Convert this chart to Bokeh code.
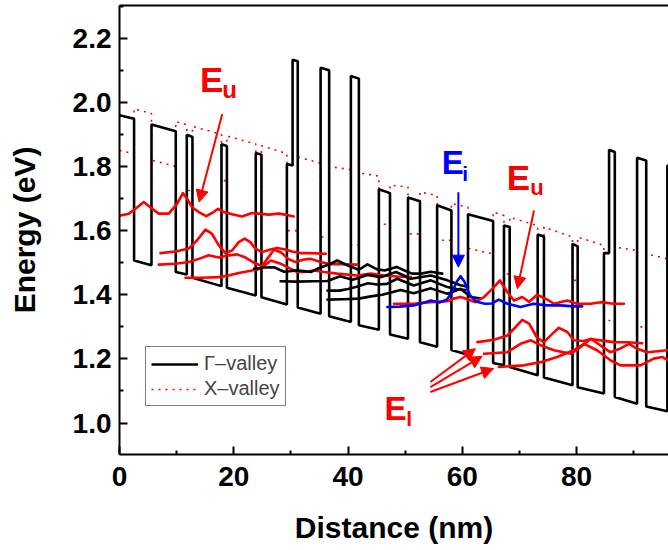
from bokeh.plotting import figure
from bokeh.models import (Range1d, FixedTicker, PrintfTickFormatter, LinearAxis,
                          Legend, LegendItem, Label, Arrow, NormalHead)
from bokeh.embed import file_html
from bokeh.resources import INLINE

# ---------------- data ----------------
# Gamma-valley conduction band profile
gamma_x = [0, 2.55, 2.55, 5.6, 5.6, 9.85, 9.85, 11.78, 11.78, 12.77, 12.77, 17.85, 17.85, 18.8,
           18.8, 23.85, 23.85, 24.85, 24.85, 29.3, 29.3, 30.3, 30.3, 31.2, 31.2, 35.2, 35.2, 36.7,
           36.7, 40.5, 40.5, 41.9, 41.9, 45.4, 45.4, 47.35, 47.35, 50.5, 50.5, 52.6, 52.6, 55.6,
           55.6, 58.1, 58.1, 61.0, 61.0, 65.4, 65.4, 67.3, 67.3, 68.3, 68.3, 73.2, 73.2, 74.3,
           74.3, 79.3, 79.3, 80.2, 80.2, 84.8, 84.8, 85.7, 85.7, 86.7, 86.7, 90.6, 90.6, 92.2,
           92.2, 95.9, 95.9, 97.0]
gamma_y = [1.960, 1.949, 1.507, 1.492, 1.931, 1.910, 1.471, 1.463, 1.899, 1.892, 1.453, 1.427,
           1.869, 1.864, 1.422, 1.398, 1.842, 1.837, 1.392, 1.370, 1.808, 1.803, 2.133, 2.128,
           1.360, 1.341, 2.108, 2.100, 1.333, 1.315, 2.082, 2.074, 1.305, 1.291, 1.729, 1.717,
           1.276, 1.263, 1.703, 1.692, 1.252, 1.238, 1.679, 1.663, 1.228, 1.213, 1.651, 1.630,
           1.187, 1.180, 1.616, 1.611, 1.175, 1.149, 1.588, 1.582, 1.142, 1.118, 1.559, 1.551,
           1.112, 1.092, 1.530, 1.530, 1.852, 1.845, 1.081, 1.060, 1.827, 1.819, 1.052, 1.037,
           1.803, 1.798]

# X-valley profile
xval_x = [0, 2.55, 2.55, 5.6, 5.6, 9.85, 9.85, 11.78, 11.78, 12.77, 12.77, 17.85, 17.85, 18.8,
          18.8, 23.85, 23.85, 24.85, 24.85, 29.3, 29.3, 31.2, 31.2, 35.2, 35.2, 36.7, 36.7, 40.5,
          40.5, 41.9, 41.9, 45.4, 45.4, 47.35, 47.35, 50.5, 50.5, 52.6, 52.6, 55.6, 55.6, 58.1,
          58.1, 61.0, 61.0, 65.4, 65.4, 67.3, 67.3, 68.3, 68.3, 73.2, 73.2, 74.3, 74.3, 79.3,
          79.3, 80.2, 80.2, 84.8, 84.8, 86.7, 86.7, 90.6, 90.6, 92.2, 92.2, 95.9, 95.9, 97.0]
xval_y = [1.85, 1.84, 1.98, 1.965, 1.82, 1.80, 1.94, 1.93, 1.725, 1.725, 1.925, 1.90, 1.756, 1.756,
          1.895, 1.87, 1.735, 1.735, 1.865, 1.84, 1.60, 1.60, 1.83, 1.81, 1.58, 1.58, 1.80, 1.79,
          1.555, 1.555, 1.78, 1.77, 1.62, 1.62, 1.742, 1.736, 1.59, 1.59, 1.72, 1.71, 1.57, 1.57,
          1.685, 1.673, 1.545, 1.527, 1.658, 1.647, 1.465, 1.465, 1.642, 1.616, 1.475, 1.475,
          1.611, 1.58, 1.445, 1.445, 1.58, 1.554, 1.32, 1.32, 1.549, 1.538, 1.30, 1.30, 1.528,
          1.512, 1.30, 1.30]

# upper state E_u (left)
eu1_x = [0.17, 1.63, 2.79, 4.25, 5.7, 6.88, 8.63, 10.1, 11.08, 11.83, 12.7, 13.88, 15.16, 16.2,
         17.25, 18.25, 19.7, 21.45, 23.2, 24.4, 26.1, 27.9, 29.0, 30.5]
eu1_y = [1.647, 1.653, 1.668, 1.689, 1.668, 1.653, 1.653, 1.684, 1.717, 1.700, 1.673, 1.658, 1.645,
         1.655, 1.668, 1.658, 1.651, 1.644, 1.655, 1.653, 1.650, 1.653, 1.650, 1.644]

# lower states (left, red)
el1_x = [7.17, 9.8, 12.13, 13.58, 15.05, 16.2, 17.38, 18.55, 19.7, 20.87, 21.9, 22.9, 23.8, 24.95,
         26.4, 27.6, 29.05, 30.2, 31.7, 33.1, 34.5, 36.1]
el1_y = [1.530, 1.535, 1.544, 1.570, 1.603, 1.590, 1.554, 1.530, 1.538, 1.564, 1.575, 1.564, 1.544,
         1.533, 1.541, 1.546, 1.541, 1.535, 1.530, 1.530, 1.529, 1.528]
el2_x = [6.88, 9.8, 12.13, 13.88, 15.6, 17.38, 19.1, 20.6, 22.05, 23.5, 24.95, 26.0, 27.05, 28.3,
         29.5, 30.8, 32.3, 33.5, 35.2, 36.98, 38.7, 41.6]
el2_y = [1.494, 1.497, 1.502, 1.512, 1.523, 1.516, 1.523, 1.526, 1.516, 1.500, 1.490, 1.515, 1.541,
         1.532, 1.512, 1.502, 1.510, 1.512, 1.502, 1.495, 1.495, 1.494]
el3_x = [11.55, 14.45, 17.38, 19.1, 20.87, 23.2, 24.4, 25.5, 26.5, 28.2, 30.0, 31.1, 32.3, 34.05,
         35.8, 38.1, 41.6, 44.0, 46.3, 48.6, 51.0]
el3_y = [1.453, 1.453, 1.455, 1.460, 1.468, 1.476, 1.480, 1.493, 1.507, 1.497, 1.481, 1.471, 1.471,
         1.476, 1.471, 1.466, 1.460, 1.466, 1.460, 1.457, 1.455]

# Gamma states (black)
gk1_x = [23.55, 25.3, 27.05, 28.8, 31.1, 33.5, 34.6, 37.0, 38.1, 39.9, 41.9, 43.4, 45.0, 46.4, 48.5,
         50.0, 51.2, 52.8, 54.5, 56.5]
gk1_y = [1.481, 1.485, 1.486, 1.472, 1.476, 1.471, 1.481, 1.497, 1.507, 1.492, 1.478, 1.495, 1.480,
         1.476, 1.487, 1.475, 1.466, 1.466, 1.472, 1.466]
gk2_x = [28.2, 31.0, 34.0, 36.4, 38.6, 40.8, 43.4, 45.7, 48.4, 51.0, 54.5, 57.4, 59.7, 61.0]
gk2_y = [1.442, 1.441, 1.442, 1.443, 1.458, 1.447, 1.462, 1.455, 1.471, 1.450, 1.460, 1.445, 1.430,
         1.425]
gk3_x = [36.4, 38.5, 40.0, 41.5, 43.5, 45.1, 46.8, 48.6, 51.5, 54.5, 57.4, 59.0, 60.5]
gk3_y = [1.413, 1.413, 1.418, 1.425, 1.436, 1.432, 1.434, 1.450, 1.429, 1.445, 1.424, 1.418, 1.415]
gk4_x = [36.4, 39.0, 41.9, 44.0, 46.0, 49.2, 51.5, 54.5, 57.4, 59.7, 61.5, 63.2]
gk4_y = [1.385, 1.386, 1.388, 1.395, 1.400, 1.415, 1.405, 1.420, 1.403, 1.419, 1.393, 1.388]

# interface state E_i (blue)
ei_x = [46.9, 49.0, 51.5, 53.0, 54.5, 56.0, 57.3, 58.3, 59.0, 59.7, 60.4, 61.3, 62.5, 64.0, 65.2,
        66.4, 67.9, 70.2, 72.5, 74.9, 77.2, 79.5, 81.0]
ei_y = [1.362, 1.363, 1.367, 1.374, 1.382, 1.376, 1.385, 1.410, 1.440, 1.458, 1.440, 1.400, 1.378,
        1.372, 1.373, 1.385, 1.372, 1.362, 1.372, 1.367, 1.367, 1.364, 1.364]

# upper state E_u (right)
eu2_x = [48.05, 51.5, 54.5, 57.4, 58.5, 59.7, 61.0, 62.2, 63.8, 65.3, 66.6, 67.9, 69.05, 70.5,
         71.7, 73.1, 74.9, 76.05, 78.4, 80.1, 82.5, 84.2, 86.5, 88.3]
eu2_y = [1.372, 1.372, 1.377, 1.380, 1.388, 1.393, 1.386, 1.377, 1.393, 1.419, 1.445, 1.408, 1.382,
         1.393, 1.378, 1.400, 1.385, 1.372, 1.382, 1.372, 1.372, 1.377, 1.372, 1.372]

# lower states (right, red)
elr1_x = [62.65, 65.55, 67.9, 69.05, 70.5, 71.7, 73.1, 74.3, 75.8, 76.9, 78.4, 79.5, 81.3, 82.5,
          84.5, 86.5, 88.9, 91.5]
elr1_y = [1.2525, 1.260, 1.273, 1.294, 1.322, 1.310, 1.266, 1.2525, 1.279, 1.297, 1.284, 1.258,
          1.256, 1.262, 1.257, 1.2525, 1.252, 1.249]
elr2_x = [63.8, 67.9, 70.2, 72.0, 73.8, 76.05, 79.0, 80.7, 82.5, 84.2, 85.9, 87.6, 89.2, 90.6, 92.4,
          95.9]
elr2_y = [1.216, 1.221, 1.247, 1.258, 1.242, 1.227, 1.216, 1.237, 1.263, 1.242, 1.221, 1.232, 1.247,
          1.232, 1.221, 1.227]
elr3_x = [66.4, 70.8, 73.7, 76.6, 79.5, 81.3, 83.6, 86.0, 87.7, 91.2, 93.5, 95.0, 96.1]
elr3_y = [1.175, 1.180, 1.190, 1.206, 1.227, 1.247, 1.227, 1.195, 1.180, 1.180, 1.201, 1.206, 1.195]

x_ticks = [0, 20, 40, 60, 80]
x_minor = [10, 30, 50, 70, 90]
y_ticks = [1.0, 1.2, 1.4, 1.6, 1.8, 2.0, 2.2]
y_minor = [0.9, 1.1, 1.3, 1.5, 1.7, 1.9, 2.1, 2.3]

RED = "#ff0000"
BLUE = "#0000ff"
FONT = "Liberation Sans"

# ---------------- figure ----------------
p = figure(width=668, height=550, output_backend="svg", toolbar_location=None,
           x_range=Range1d(0, 96.1), y_range=Range1d(0.902, 2.302),
           min_border_left=119, min_border_right=0, min_border_top=5, min_border_bottom=96,
           x_axis_label="Distance (nm)", y_axis_label="Energy (eV)")
p.grid.visible = False
p.outline_line_color = None
p.background_fill_color = "white"
p.border_fill_color = "white"

p.xaxis.ticker = FixedTicker(ticks=x_ticks, minor_ticks=x_minor)
p.yaxis.ticker = FixedTicker(ticks=y_ticks, minor_ticks=y_minor)
p.yaxis.formatter = PrintfTickFormatter(format="%.1f")

for ax in (p.xaxis[0], p.yaxis[0]):
    ax.axis_line_width = 2
    ax.axis_line_color = "black"
    ax.major_tick_in = 8
    ax.major_tick_out = 0
    ax.minor_tick_in = 4
    ax.minor_tick_out = 0
    ax.major_tick_line_width = 2
    ax.minor_tick_line_width = 2
    ax.major_label_text_font = FONT
    ax.major_label_text_font_style = "bold"
    ax.major_label_text_font_size = "28px"
    ax.major_label_text_color = "black"
    ax.axis_label_text_font = FONT
    ax.axis_label_text_font_style = "bold"
    ax.axis_label_text_font_size = "30px"
    ax.axis_label_text_color = "black"
p.xaxis.major_label_standoff = 12
p.yaxis.major_label_standoff = 8
p.xaxis.axis_label_standoff = 22
p.yaxis.axis_label_standoff = 29

top = LinearAxis(ticker=FixedTicker(ticks=[]), major_label_text_font_size="0px",
                 axis_line_width=2, major_tick_line_color=None, minor_tick_line_color=None)
p.add_layout(top, "above")

# ---------------- band profiles ----------------
xv = p.line(xval_x, xval_y, line_color=RED, line_width=1.6, line_dash="2 5")
gam = p.line(gamma_x, gamma_y, line_color="black", line_width=2.6)

# ---------------- wavefunctions ----------------
for xs, ys, c in [(eu1_x, eu1_y, RED), (el1_x, el1_y, RED), (el2_x, el2_y, RED),
                  (el3_x, el3_y, RED), (gk1_x, gk1_y, "black"), (gk2_x, gk2_y, "black"),
                  (gk3_x, gk3_y, "black"), (gk4_x, gk4_y, "black"),
                  (eu2_x, eu2_y, RED), (ei_x, ei_y, BLUE),
                  (elr1_x, elr1_y, RED), (elr2_x, elr2_y, RED), (elr3_x, elr3_y, RED)]:
    p.line(xs, ys, line_color=c, line_width=2.6, line_join="round", line_cap="round")

# ---------------- annotations ----------------
def lab(x, y, t, color, size):
    p.add_layout(Label(x=x, y=y, text=t, text_color=color, text_font=FONT,
                       text_font_style="bold", text_font_size=size,
                       text_baseline="alphabetic", text_align="left"))

lab(14.1, 2.070, "E", RED, "35px")
lab(18.0, 2.039, "u", RED, "24px")
lab(56.4, 1.812, "E", BLUE, "33px")
lab(60.0, 1.778, "i", BLUE, "21px")
lab(67.8, 1.765, "E", RED, "35px")
lab(71.9, 1.734, "u", RED, "22px")
lab(46.4, 1.045, "E", RED, "33px")
lab(50.2, 1.014, "l", RED, "21px")

def arrow(x0, y0, x1, y1, color):
    p.add_layout(Arrow(x_start=x0, y_start=y0, x_end=x1, y_end=y1,
                       line_color=color, line_width=2,
                       end=NormalHead(size=12, fill_color=color, line_color=color,
                                      line_width=1)))

arrow(17.99, 1.964, 13.93, 1.689, RED)
arrow(59.32, 1.720, 59.32, 1.486, BLUE)
arrow(72.55, 1.663, 69.64, 1.419, RED)
arrow(54.42, 1.128, 62.29, 1.232, RED)
arrow(54.42, 1.112, 63.45, 1.208, RED)
arrow(54.42, 1.097, 65.49, 1.170, RED)

# ---------------- legend ----------------
legend = Legend(items=[LegendItem(label="Γ–valley", renderers=[gam]),
                       LegendItem(label="X–valley", renderers=[xv])],
                location=(26, 48), orientation="vertical",
                border_line_color="black", border_line_width=1,
                background_fill_color="white", background_fill_alpha=1,
                label_text_font=FONT, label_text_font_size="20px",
                glyph_width=47, glyph_height=20, label_standoff=6,
                padding=5, spacing=2, margin=0)
p.add_layout(legend)

open("out.html", "w").write(file_html(p, INLINE))
